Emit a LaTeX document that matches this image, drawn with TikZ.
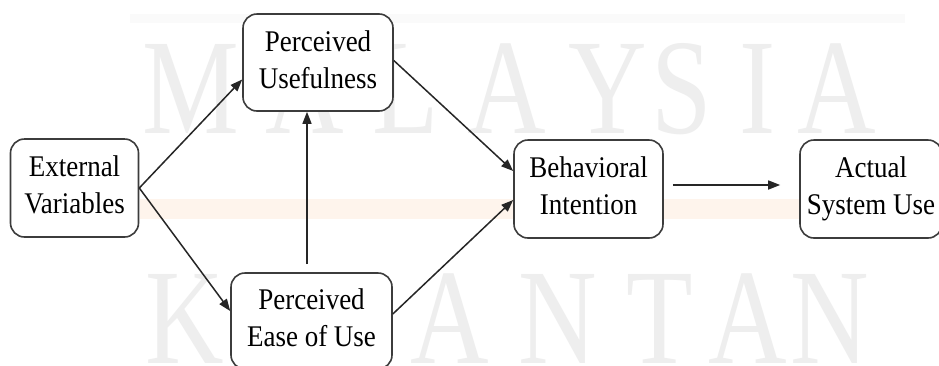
\documentclass[tikz,border=0pt]{standalone}
\usepackage{fontspec}
\usepackage{graphicx}
\setmainfont{Liberation Serif}
\usetikzlibrary{arrows.meta}

\definecolor{boxline}{HTML}{3C3C3C}
\definecolor{arrowline}{HTML}{262626}
\definecolor{wmgray}{HTML}{EEEEEE}
\definecolor{bandorange}{HTML}{FEF4EC}
\definecolor{bandgray}{HTML}{FAFAFA}

% two-line label set slightly condensed
\newcommand\boxtext[1]{\scalebox{0.9}[1]{\fontsize{30}{37}\selectfont\begin{tabular}{@{}c@{}}#1\end{tabular}}}
% single watermark letter
\newcommand\wmletter[1]{\scalebox{0.8}[1]{\fontsize{136}{136}\selectfont #1}}

\begin{document}
\begin{tikzpicture}[x=1pt,y=-1pt,
  construct/.style={draw=boxline, line width=1.6pt, rounded corners=14pt,
    fill=white, inner sep=0pt, text=black},
  link/.style={draw=arrowline, line width=1.5pt,
    -{Triangle[length=12pt,width=9pt]}},
  wm/.style={anchor=base, inner sep=0pt, text=wmgray}]

\clip (0,0) rectangle (939,365);
\fill[white] (0,0) rectangle (939,365);

% faint background marks
\fill[bandgray] (130,14) rectangle (905,23);
\foreach \ch/\cx [count=\i] in {M/191,A/305,L/406,A/507,Y/608,S/682,I/758,A/837}
  \node[wm] (wmtop\i) at (\cx,133) {\wmletter{\ch}};
\foreach \ch/\cx [count=\i] in {K/185,E/273,L/358,A/450,N/558,T/660,A/748,N/830}
  \node[wm] (wmbot\i) at (\cx,363) {\wmletter{\ch}};
\fill[bandorange] (140,199) rectangle (800,219);

% constructs
\node[construct, minimum width=128pt, minimum height=98pt] (ev)   at (74.5,188) {\boxtext{External\\Variables}};
\node[construct, minimum width=150pt, minimum height=97pt] (pu)   at (318,62.5) {\boxtext{Perceived\\Usefulness}};
\node[construct, minimum width=161pt, minimum height=96pt] (peou) at (311.5,321) {\boxtext{Perceived\\Ease of Use}};
\node[construct, minimum width=149pt, minimum height=98pt] (bi)   at (588.5,189) {\boxtext{Behavioral\\Intention}};
\node[construct, minimum width=142pt, minimum height=98pt] (asu)  at (871,189) {\boxtext{Actual\\System Use}};

% relations
\draw[link] (ev.east) -- ([yshift=-17pt]pu.west);
\draw[link] (ev.east) -- ([yshift=10pt]peou.west);
\draw[link] ([yshift=2pt]pu.east) -- ([yshift=18pt]bi.west);
\draw[link] ([yshift=7pt]peou.east) -- ([yshift=-11pt]bi.west);
\draw[link] ([xshift=-4.5pt,yshift=8pt]peou.north) -- ([xshift=-11pt]pu.south);
\draw[link] ([xshift=9pt,yshift=4pt]bi.east) -- ([xshift=-19pt,yshift=4pt]asu.west);
\end{tikzpicture}
\end{document}
